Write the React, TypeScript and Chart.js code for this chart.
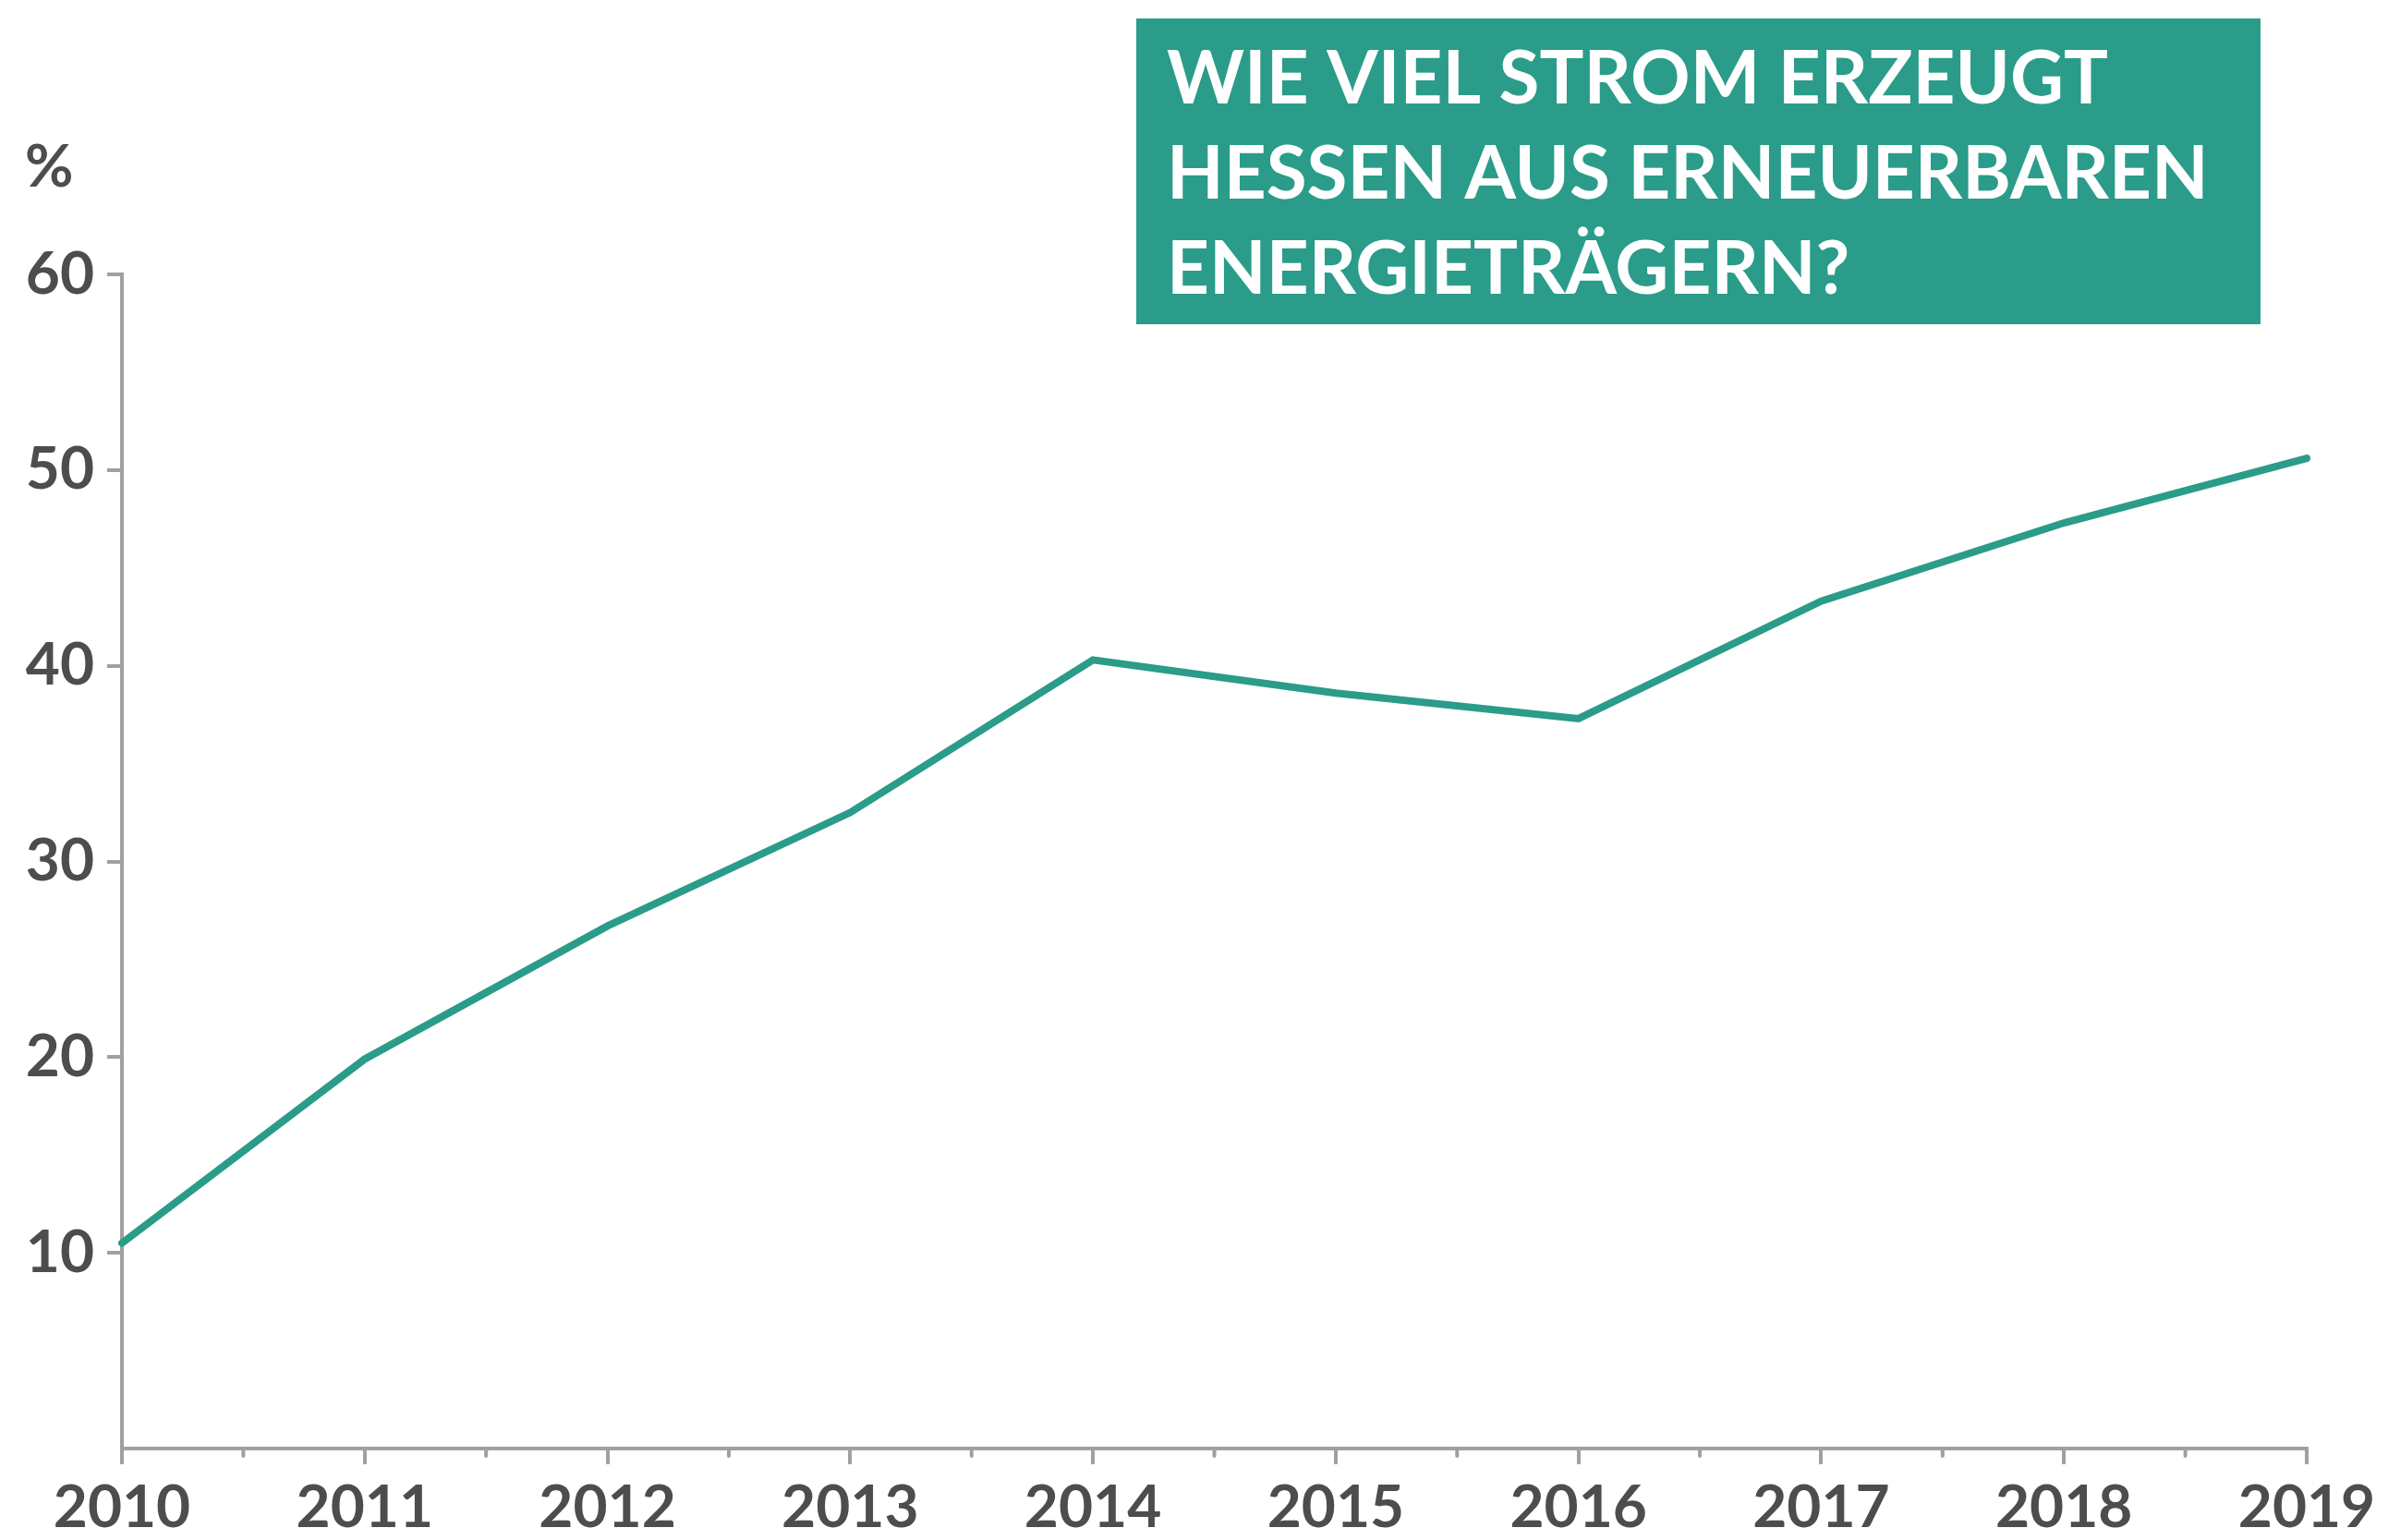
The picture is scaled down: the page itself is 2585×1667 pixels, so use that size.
import React, { useEffect, useRef } from "react";
import { Chart, registerables } from "chart.js";

Chart.register(...registerables);

const years = [2010, 2011, 2012, 2013, 2014, 2015, 2016, 2017, 2018, 2019];
const shares = [10.5, 19.9, 26.7, 32.5, 40.3, 38.6, 37.3, 43.3, 47.3, 50.6];
const yTickValues = [10, 20, 30, 40, 50, 60];
const titleLines = ["WIE VIEL STROM ERZEUGT", "HESSEN AUS ERNEUERBAREN", "ENERGIETRÄGERN?"];
const unitLabel = "%";

const AXIS = "#a0a0a0";
const TEXT = "#4d4d4d";
const TEAL = "#2a9c89";
const FONT = "Lato, 'Open Sans', sans-serif";

export default function App() {
  const ref = useRef<HTMLCanvasElement | null>(null);

  useEffect(() => {
    const canvas = ref.current;
    if (!canvas) return;

    const decor = {
      id: "decor",
      afterDraw(chart: any) {
        const ctx = chart.ctx;
        const x = chart.scales.x;
        ctx.save();
        // minor ticks at half years
        ctx.strokeStyle = AXIS;
        ctx.lineWidth = 4;
        ctx.lineCap = "round";
        for (let i = 0; i < years.length - 1; i++) {
          const px = x.getPixelForValue(years[i] + 0.5);
          ctx.beginPath();
          ctx.moveTo(px, x.top);
          ctx.lineTo(px, x.top + 8);
          ctx.stroke();
        }
        // unit label
        ctx.fillStyle = TEXT;
        ctx.font = `bold 64px ${FONT}`;
        ctx.textAlign = "left";
        ctx.textBaseline = "alphabetic";
        ctx.fillText(unitLabel, 27, 202);
        // title box
        ctx.fillStyle = TEAL;
        ctx.fillRect(1230, 20, 1217, 331);
        ctx.fillStyle = "#ffffff";
        ctx.font = `bold 80px ${FONT}`;
        titleLines.forEach((t, i) => {
          ctx.fillText(t, 1263, 112 + i * 103);
        });
        ctx.restore();
      },
    };

    const chart = new Chart(canvas, {
      type: "line",
      data: {
        datasets: [
          {
            data: years.map((y, i) => ({ x: y, y: shares[i] })),
            borderColor: TEAL,
            borderWidth: 8,
            pointRadius: 0,
            tension: 0,
            borderCapStyle: "round",
            borderJoinStyle: "miter",
            clip: false as any,
          },
        ],
      },
      options: {
        animation: false,
        responsive: true,
        maintainAspectRatio: false,
        layout: { padding: { top: 297, right: 88, bottom: 0, left: 0 } },
        plugins: { legend: { display: false }, tooltip: { enabled: false }, title: { display: false } },
        scales: {
          x: {
            type: "linear",
            min: years[0],
            max: years[years.length - 1],
            afterFit: (s: any) => {
              s.height = 99;
            },
            ticks: {
              stepSize: 1,
              color: TEXT,
              padding: 9,
              font: { family: FONT, size: 64, weight: "bold" },
              callback: (v: any) => String(v),
              maxRotation: 0,
              autoSkip: false,
            },
            grid: { drawOnChartArea: false, tickLength: 17, color: AXIS, lineWidth: 4 },
            border: { display: true, color: AXIS, width: 4 },
          },
          y: {
            type: "linear",
            min: 0,
            max: 60,
            afterFit: (s: any) => {
              s.width = 132;
            },
            afterBuildTicks: (s: any) => {
              s.ticks = yTickValues.map((v) => ({ value: v }));
            },
            ticks: {
              color: TEXT,
              padding: 14,
              font: { family: FONT, size: 64, weight: "bold" },
            },
            grid: { drawOnChartArea: false, tickLength: 16, color: AXIS, lineWidth: 4 },
            border: { display: true, color: AXIS, width: 4 },
          },
        },
      },
      plugins: [decor],
    } as any);

    return () => chart.destroy();
  }, []);

  return (
    <div style={{ position: "fixed", left: 0, top: 0, width: 2585, height: 1667, background: "#fff" }}>
      <canvas ref={ref} />
    </div>
  );
}
